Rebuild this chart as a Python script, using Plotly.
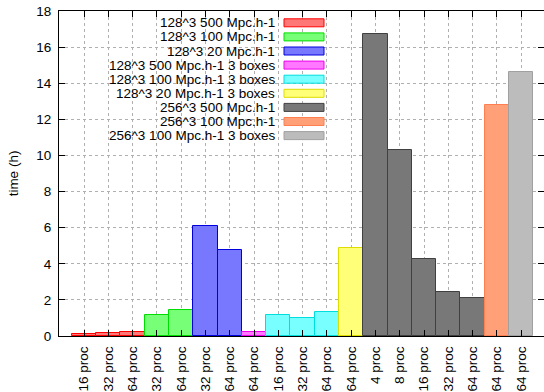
import plotly.graph_objects as go

# ---- data ----
series_names = [
    "128^3 500 Mpc.h-1",
    "128^3 100 Mpc.h-1",
    "128^3 20 Mpc.h-1",
    "128^3 500 Mpc.h-1 3 boxes",
    "128^3 100 Mpc.h-1 3 boxes",
    "128^3 20 Mpc.h-1 3 boxes",
    "256^3 500 Mpc.h-1",
    "256^3 100 Mpc.h-1",
    "256^3 100 Mpc.h-1 3 boxes",
]
s1_procs = [16, 32, 64]
s1_vals = [0.11, 0.15, 0.22]
s2_procs = [32, 64]
s2_vals = [1.16, 1.44]
s3_procs = [32, 64]
s3_vals = [6.09, 4.76]
s4_procs = [64]
s4_vals = [0.22]
s5_procs = [16, 32, 64]
s5_vals = [1.14, 1.00, 1.33]
s6_procs = [64]
s6_vals = [4.87]
s7_procs = [4, 8, 16, 32, 64]
s7_vals = [16.70, 10.32, 4.28, 2.42, 2.09]
s8_procs = [64]
s8_vals = [12.77]
s9_procs = [64]
s9_vals = [14.62]

procs = [s1_procs, s2_procs, s3_procs, s4_procs, s5_procs, s6_procs, s7_procs, s8_procs, s9_procs]
vals = [s1_vals, s2_vals, s3_vals, s4_vals, s5_vals, s6_vals, s7_vals, s8_vals, s9_vals]

fills = ["#ff7878", "#78ff78", "#7878ff", "#ff78ff", "#78ffff", "#ffff78",
         "#787878", "#ffa078", "#bcbcbc"]
borders = ["#ff0000", "#00dd00", "#0000dd", "#ee00ee", "#00dddd", "#dddd00",
           "#404040", "#ff7f50", "#a0a0a0"]

FONT = "Liberation Sans, Arial, sans-serif"
FS = 13.5

fig = go.Figure()
tickvals, ticktext = [], []
pos = 0
for name, pr, vv, fc, bc in zip(series_names, procs, vals, fills, borders):
    xs = list(range(pos, pos + len(vv)))
    pos += len(vv)
    tickvals += xs
    ticktext += [f"{p} proc" for p in pr]
    fig.add_trace(go.Bar(x=xs, y=vv, name=name, width=1.0,
                         marker=dict(color=fc, line=dict(color=bc, width=1)),
                         showlegend=False, hoverinfo="skip"))

# plot area in page pixels
L, R, T, B = 59, 544, 11, 336
W, H = R - L, B - T
def px(x):
    return (x - L) / W
def py(y):
    return (B - y) / H

# ---- manual legend (text left of swatch, gnuplot style) ----
shapes = [dict(type="rect", xref="paper", yref="paper", x0=0, x1=px(332),
               y0=py(143), y1=1, fillcolor="white", line=dict(width=0),
               layer="between")]
annotations = []
for i, (name, fc, bc) in enumerate(zip(series_names, fills, borders)):
    yc = 22.8 + 14.1 * i
    annotations.append(dict(xref="paper", yref="paper", x=px(276), y=py(yc),
                            text=name, showarrow=False, xanchor="right",
                            yanchor="middle", borderpad=0,
                            font=dict(size=FS, color="black", family=FONT)))
    shapes.append(dict(type="rect", xref="paper", yref="paper",
                       x0=px(284), x1=px(324), y0=py(yc + 4), y1=py(yc - 4),
                       fillcolor=fc, line=dict(color=bc, width=1), layer="above"))

fig.update_layout(
    width=544, height=392,
    margin=dict(l=L, r=544 - R, t=T, b=392 - B, autoexpand=False),
    paper_bgcolor="white", plot_bgcolor="white",
    barmode="overlay", bargap=0,
    font=dict(family=FONT, size=FS, color="black"),
    shapes=shapes, annotations=annotations,
    showlegend=False,
    xaxis=dict(range=[-1.03, 18.94], tickmode="array", tickvals=tickvals,
               ticktext=ticktext, tickangle=-90, ticks="inside", ticklen=6,
               tickcolor="black", showline=True, linecolor="black", mirror="allticks",
               showgrid=True, gridcolor="#b0b0b0", griddash="dot", gridwidth=1,
               zeroline=False, tickfont=dict(size=FS), ticklabelstandoff=4,
               automargin=False),
    yaxis=dict(range=[0, 18], tickmode="array", tickvals=list(range(0, 19, 2)),
               ticks="inside", ticklen=6, tickcolor="black", showline=True,
               linecolor="black", mirror="allticks", showgrid=True,
               gridcolor="#b0b0b0", griddash="dot", gridwidth=1, zeroline=False,
               title=dict(text="time (h)", font=dict(size=FS), standoff=14),
               tickfont=dict(size=FS), ticklabelstandoff=4, automargin=False),
)

fig.write_html("out.html", config={"displayModeBar": False},
               post_script="document.body.style.margin='0';")
